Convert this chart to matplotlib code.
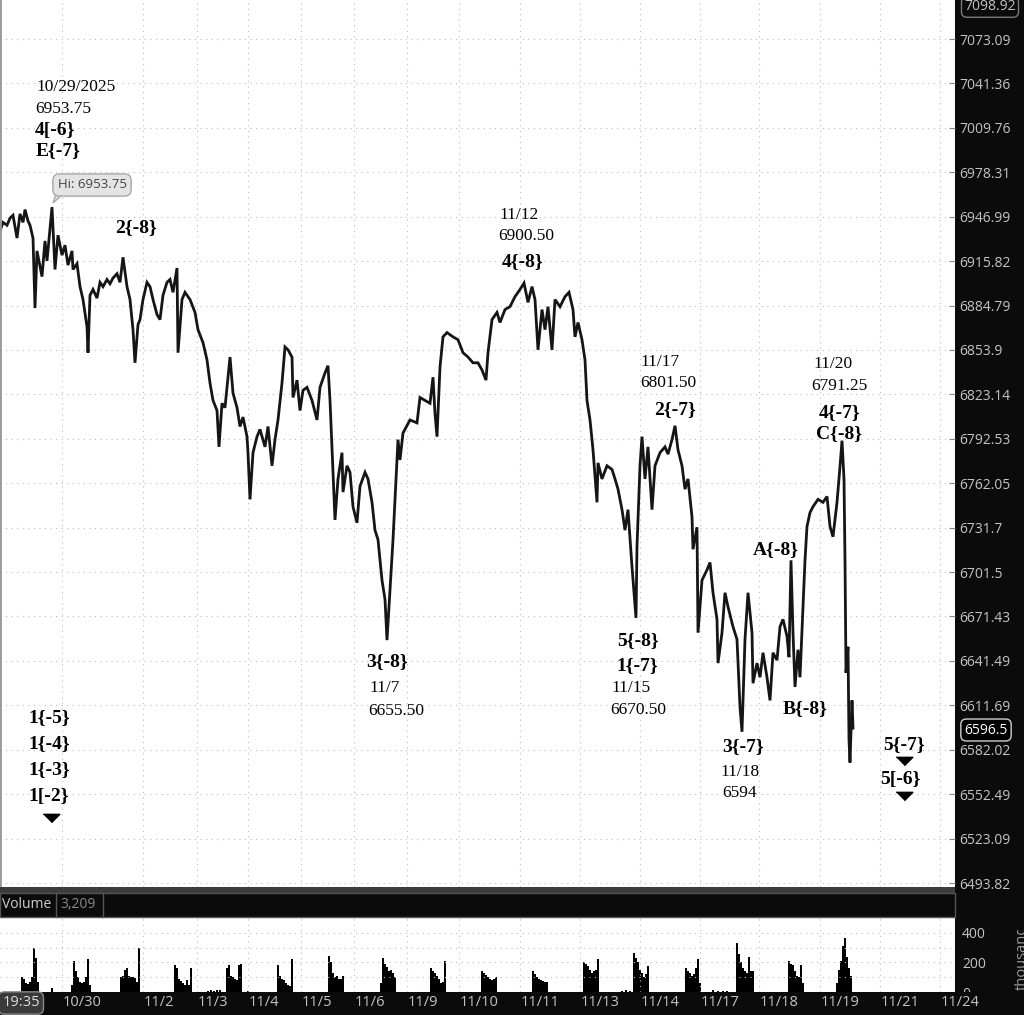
import matplotlib
matplotlib.use("Agg")
import matplotlib.pyplot as plt
from matplotlib.patches import Rectangle, Polygon
from matplotlib.ticker import NullLocator
from matplotlib.transforms import Bbox, TransformedBbox
import numpy as np

# price path (bar number, price)
bar = [0, 3, 7, 10, 13, 17, 20, 23, 25, 28, 30, 33, 35, 37, 40, 42, 45, 47, 50, 52,
       55, 58, 62, 65, 68, 72, 73, 77, 80, 83, 87, 88, 90, 93, 97, 100, 103, 107, 110, 113,
       117, 120, 123, 127, 130, 133, 135, 138, 140, 143, 147, 150, 153, 157, 160, 163, 167, 170, 173, 177,
       178, 182, 185, 190, 195, 198, 203, 207, 210, 213, 217, 219, 222, 225, 230, 233, 237, 240, 243, 247,
       248, 250, 253, 257, 260, 265, 268, 272, 275, 278, 282, 285, 288, 292, 293, 297, 300, 303, 307, 312,
       317, 320, 325, 328, 330, 333, 335, 338, 342, 343, 347, 350, 353, 357, 360, 365, 368, 372, 375, 378,
       382, 385, 387, 390, 393, 396, 398, 400, 403, 410, 417, 420, 425, 430, 433, 435, 437, 440, 443, 447,
       453, 458, 463, 468, 473, 478, 482, 486, 488, 492, 497, 500, 505, 510, 515, 520, 524, 528, 532, 535,
       538, 542, 545, 548, 552, 555, 560, 565, 569, 573, 575, 578, 582, 585, 587, 590, 593, 597, 598, 602,
       607, 612, 615, 618, 622, 625, 628, 632, 634, 636, 637, 640, 642, 645, 648, 652, 655, 660, 665, 668,
       672, 675, 678, 682, 685, 688, 692, 693, 697, 698, 702, 707, 710, 713, 717, 718, 722, 725, 728, 733,
       737, 740, 742, 745, 748, 752, 753, 757, 760, 763, 767, 770, 773, 777, 780, 783, 787, 789, 791, 793,
       795, 798, 800, 803, 805, 807, 810, 813, 818, 823, 827, 830, 833, 837, 840, 842, 844, 845, 846, 848,
       849, 850, 852, 853]
price = [6937, 6943, 6941, 6946, 6948, 6932, 6949, 6943, 6952, 6944, 6941, 6932, 6883, 6923, 6912, 6905, 6930, 6916, 6939, 6953.75,
         6910, 6934, 6920, 6927, 6913, 6923, 6910, 6914, 6898, 6889, 6870, 6852, 6892, 6896, 6890, 6901, 6898, 6903, 6900, 6904,
         6907, 6901, 6918.5, 6898, 6889, 6868, 6845, 6871.5, 6875, 6889, 6901, 6898, 6889, 6878.5, 6875, 6892, 6901, 6903, 6894, 6911,
         6852, 6889, 6894, 6889, 6880, 6868, 6859, 6847, 6831, 6819, 6812, 6787, 6817, 6814, 6849, 6824, 6814, 6801, 6807.5, 6794,
         6783, 6751, 6783, 6794, 6799, 6787, 6801, 6774, 6792, 6805.5, 6831, 6856, 6854, 6849, 6821, 6833, 6812, 6826, 6828, 6819,
         6805.5, 6828, 6838, 6843, 6819, 6769.5, 6737, 6765, 6783, 6756, 6774, 6769.5, 6746, 6735, 6760, 6769.5, 6765, 6749, 6730, 6723.5,
         6696, 6683, 6655.5, 6689.5, 6723.5, 6765, 6792, 6778, 6796.5, 6805.5, 6803.5, 6821, 6819, 6817, 6835, 6810, 6794, 6842, 6863, 6866,
         6863, 6861, 6852, 6849, 6845, 6845, 6840, 6833, 6852, 6875, 6880, 6873, 6882, 6884, 6891, 6896, 6900.5, 6887, 6898, 6889,
         6854, 6882, 6868, 6884, 6854, 6889, 6884, 6891, 6894, 6882, 6863, 6873, 6861, 6847, 6819, 6805.5, 6785, 6749, 6776, 6765,
         6774, 6771.5, 6765, 6758, 6744, 6730, 6744, 6705, 6687.5, 6670.5, 6719, 6774, 6794, 6765, 6787, 6744, 6774, 6783, 6787, 6782,
         6792, 6801.5, 6785, 6774, 6758, 6765, 6739, 6717, 6732, 6660.5, 6696, 6703, 6708, 6687.5, 6669.5, 6640, 6660.5, 6687.5, 6678, 6664.5,
         6656, 6610.5, 6594, 6656, 6687.5, 6660.5, 6626.5, 6640, 6630.5, 6647, 6630.5, 6615, 6647, 6642, 6664.5, 6669.5, 6658, 6644, 6709.5, 6660.5,
         6624, 6649, 6630.5, 6678, 6709.5, 6732.5, 6742, 6746, 6751, 6749, 6753, 6732.5, 6725.5, 6749, 6773.5, 6791.25, 6765, 6709.5, 6633.5, 6651,
         6588.5, 6573.5, 6615, 6596.5]

price_ticks = [7073.09, 7041.36, 7009.76, 6978.31, 6946.99, 6915.82, 6884.79, 6853.9, 6823.14, 6792.53,
               6762.05, 6731.7, 6701.5, 6671.43, 6641.49, 6611.69, 6582.02, 6552.49, 6523.09, 6493.82]
price_tick_labels = ["7073.09", "7041.36", "7009.76", "6978.31", "6946.99", "6915.82", "6884.79", "6853.9",
                     "6823.14", "6792.53", "6762.05", "6731.7", "6701.5", "6671.43", "6641.49", "6611.69",
                     "6582.02", "6552.49", "6523.09", "6493.82"]

date_bar = [62, 143, 197, 248, 301, 354, 407, 459, 520, 580, 640, 700, 759, 820, 880, 940]
date_labels = ["10/30", "11/2", "11/3", "11/4", "11/5", "11/6", "11/9", "11/10", "11/11",
               "11/13", "11/14", "11/17", "11/18", "11/19", "11/21", "11/24"]

# volume (thousands): regular sessions, first bar of each and bar-by-bar profile
vol_start = [22, 72, 121, 175, 227, 278, 329, 381, 431, 482, 533, 584, 634, 686, 737, 789, 837]
vol_profile = [
    [100, 85, 60, 55, 70, 100, 298, 230, 65],
    [50, 210, 140, 100, 70, 60, 65, 100, 220, 50],
    [100, 110, 150, 165, 110, 100, 100, 95, 70, 300],
    [185, 160, 90, 75, 60, 50, 80, 45, 160],
    [160, 180, 110, 100, 90, 80, 180, 190],
    [180, 110, 90, 80, 60, 50, 40, 220],
    [244, 200, 130, 100, 110, 90, 85, 110],
    [60, 230, 190, 170, 145, 150, 130, 100],
    [160, 140, 130, 110, 90, 60, 70, 210],
    [145, 130, 115, 100, 90, 80, 90, 100],
    [145, 120, 100, 90, 80, 75, 70, 70],
    [200, 190, 175, 150, 130, 140, 150, 225],
    [265, 230, 200, 150, 130, 100, 120, 175],
    [160, 140, 130, 110, 120, 165, 225, 60],
    [330, 260, 200, 165, 140, 130, 235, 145, 140],
    [210, 190, 180, 140, 110, 100, 180, 60],
    [60, 150, 210, 310, 365, 235, 160, 110],
]
night_bar = [52, 208, 211, 214, 217, 220, 248, 622, 626, 630, 713, 718, 723, 727]
night_vol = [25, 8, 12, 10, 15, 12, 8, 10, 14, 9, 12, 8, 10, 9]

W, H = 1024, 1015
AXW, AXH = 955, 887
BG = "#0b0b0b"
GRID = "#bdbdbd"
AXTXT = "#c4c4c4"

fig = plt.figure(figsize=(W / 100, H / 100), dpi=100, facecolor=BG)

def fx(x):
    return x / W

def fy(y):
    return 1 - y / H

# price panel
ax = fig.add_axes([0, fy(AXH), fx(AXW), AXH / H], facecolor="white")
ax.plot(bar, price, color="#151515", lw=2.0, solid_joinstyle="miter")
ax.set_yscale("log")
ax.set_ylim(6491.2, 7101.1)
ax.set_xlim(0, AXW)
ax.yaxis.set_minor_locator(NullLocator())
ax.set_yticks(price_ticks)
ax.set_yticklabels(price_tick_labels)
ax.yaxis.tick_right()
ax.set_xticks(date_bar)
ax.set_xticklabels([])
ax.tick_params(axis="x", length=0)
ax.tick_params(axis="y", direction="in", length=4, color="#888888", pad=3,
               labelcolor=AXTXT, labelsize=10)
for lbl in ax.get_yticklabels():
    lbl.set_family("Open Sans")
ax.grid(True, color=GRID, lw=0.8, linestyle=(0, (1, 4)))
for s in ["top", "right", "bottom"]:
    ax.spines[s].set_visible(False)
ax.spines["left"].set_color("#9a9a9a")
ax.spines["left"].set_linewidth(2)

def at(x, y):
    return x / AXW, 1 - y / AXH

serif = "Liberation Serif"
notes = [
    ("10/29/2025", 36, 87, False), ("6953.75", 35, 109, False),
    ("4[-6}", 35, 131, True), ("E{-7}", 36, 151, True),
    ("2{-8}", 115, 228, True),
    ("11/12", 499, 215, False), ("6900.50", 498, 236, False), ("4{-8}", 502, 262, True),
    ("3{-8}", 366, 662, True), ("11/7", 369, 688, False), ("6655.50", 368, 711, False),
    ("11/17", 640, 362, False), ("6801.50", 640, 383, False), ("2{-7}", 654, 410, True),
    ("5{-8}", 617, 641, True), ("1{-7}", 616, 666, True), ("11/15", 611, 688, False),
    ("6670.50", 610, 710, False),
    ("3{-7}", 722, 747, True), ("11/18", 720, 772, False), ("6594", 722, 793, False),
    ("A{-8}", 753, 550, True), ("B{-8}", 783, 709, True),
    ("11/20", 813, 364, False), ("6791.25", 811, 386, False),
    ("4{-7}", 819, 413, True), ("C{-8}", 816, 434, True),
    ("5{-7}", 883, 745, True), ("5[-6}", 880, 780, True),
    ("1{-5}", 28, 718, True), ("1{-4}", 28, 744, True), ("1{-3}", 28, 770, True),
    ("1[-2}", 28, 796, True),
]
for txt, x, y, bold in notes:
    ax.text(*at(x, y), txt, transform=ax.transAxes, ha="left", va="center",
            family=serif, fontsize=14 if bold else 12.5,
            fontweight="bold" if bold else "normal", color="black")

tri = [(-1, 0.5), (1, 0.5), (0, -0.5)]
for x, y in [(51, 818), (904, 761), (904, 796)]:
    ax.plot(*at(x, y), marker=tri, ms=12, color="black", transform=ax.transAxes,
            clip_on=False)

# Hi bubble
ax.add_patch(Polygon([at(56, 194), at(63, 194), at(53, 203)], closed=True,
                     transform=ax.transAxes, facecolor="#e4e4e4",
                     edgecolor="#a8a8a8", lw=1, zorder=4))
ax.text(*at(92, 185), "Hi: 6953.75", transform=ax.transAxes, ha="center",
        va="center", family="Open Sans", fontsize=9.5, color="#444444", zorder=5,
        bbox=dict(boxstyle="round,pad=0.35,rounding_size=0.5", fc="#e4e4e4",
                  ec="#a8a8a8", lw=1))

# volume header band
fig.add_artist(Rectangle((0, fy(893)), fx(AXW), 6 / H, transform=fig.transFigure,
                         facecolor="#3c3c3c", edgecolor="none"))
fig.add_artist(Rectangle((0, fy(917)), fx(AXW), 24 / H, transform=fig.transFigure,
                         facecolor=BG, edgecolor="#555555", lw=1))
for xs in [56, 103]:
    fig.add_artist(plt.Line2D([fx(xs), fx(xs)], [fy(917), fy(893)],
                              transform=fig.transFigure, color="#555555", lw=1))
fig.text(fx(2), fy(905), "Volume", ha="left", va="center", color="#cfcfcf",
         family="Open Sans", fontsize=10)
fig.text(fx(60), fy(905), "3,209", ha="left", va="center", color="#8a8a8a",
         family="Open Sans", fontsize=10)

# volume panel
axv = fig.add_axes([0, fy(992), fx(AXW), (992 - 918) / H], facecolor="white")
for start, prof in zip(vol_start, vol_profile):
    xs = start + 2 * np.arange(len(prof))
    axv.bar(xs, prof, width=2.0, color="black", lw=0)
axv.bar(night_bar, night_vol, width=1.7, color="black", lw=0)
axv.set_xlim(0, AXW)
axv.set_ylim(0, 500)
axv.set_yticks([0, 100, 200, 300, 400])
axv.set_yticklabels(["0", "", "200", "", "400"])
axv.yaxis.tick_right()
axv.set_xticks(date_bar)
axv.set_xticklabels([])
axv.tick_params(axis="both", length=0)
axv.tick_params(axis="y", pad=5, labelcolor=AXTXT, labelsize=10)
for lbl in axv.get_yticklabels():
    lbl.set_family("Open Sans")
axv.grid(True, color=GRID, lw=0.8, linestyle=(0, (1, 4)))
for s in axv.spines.values():
    s.set_visible(False)

t = fig.text(fx(1015), fy(990), "thousands", rotation=90, ha="left", va="bottom",
             color="#9a9a9a", family="Open Sans", fontsize=10.5)
t.set_clip_box(TransformedBbox(Bbox([[fx(1000), fy(992)], [1, fy(930)]]), fig.transFigure))
t.set_clip_on(True)

# bottom time axis strip
fig.add_artist(Rectangle((0, 0), 1, fy(992), transform=fig.transFigure,
                         facecolor=BG, edgecolor="none", zorder=10))
for xb, lab in zip(date_bar, date_labels):
    fig.text(fx(xb + 1), fy(1003), lab, ha="left", va="center", color=AXTXT,
             family="Open Sans", fontsize=10.5, zorder=11)
fig.text(fx(21), fy(1003), "19:35", ha="center", va="center", color="#dcdcdc",
         family="Open Sans", fontsize=10.5, zorder=12,
         bbox=dict(boxstyle="round,pad=0.25,rounding_size=0.4", fc="#3a3a3a",
                   ec="#8a8a8a", lw=1))

# price flags on the right axis
fig.text(fx(990), fy(7), "7098.92", ha="center", va="center", color=AXTXT,
         family="Open Sans", fontsize=10, zorder=12,
         bbox=dict(boxstyle="round,pad=0.2,rounding_size=0.4", fc=BG,
                   ec="#7a7a7a", lw=1))
fig.text(fx(986), fy(730), "6596.5", ha="center", va="center", color="white",
         family="Open Sans", fontsize=10, zorder=12,
         bbox=dict(boxstyle="round,pad=0.25,rounding_size=0.4", fc="black",
                   ec="#d0d0d0", lw=1))

fig.savefig("out.png", dpi=100, facecolor=BG)
